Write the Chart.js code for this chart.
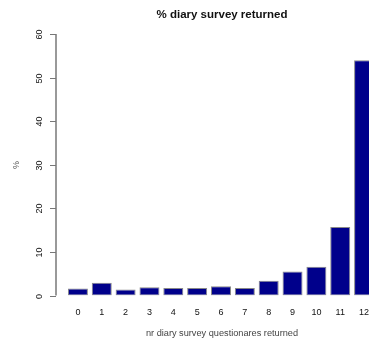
<!DOCTYPE html>
<html>
<head>
<meta charset="utf-8">
<script src="https://cdn.jsdelivr.net/npm/chart.js@4"></script>
<style>
html,body{margin:0;padding:0;background:#fff;overflow:hidden;width:369px;height:341px;}
#wrap{width:400px;height:341px;}
</style>
</head>
<body>
<div id="wrap"><canvas id="c" width="400" height="341"></canvas></div>
<script>
const categories = ["0","1","2","3","4","5","6","7","8","9","10","11","12"];
const percentReturned = [1.6, 2.9, 1.4, 1.9, 1.7, 1.7, 2.1, 1.7, 3.4, 5.5, 6.6, 15.7, 54];
const yTicks = [0, 10, 20, 30, 40, 50, 60];
const titleText = "% diary survey returned";
const xTitle = "nr diary survey questionares returned";
const yTitle = "%";

const axisPlugin = {
  id: 'rAxes',
  afterDraw(chart) {
    const ctx = chart.ctx;
    const y = chart.scales.y, x = chart.scales.x;
    const axX = 56;
    ctx.save();
    // y axis line
    ctx.strokeStyle = '#777';
    ctx.lineWidth = 1.5;
    ctx.beginPath();
    ctx.moveTo(axX, y.getPixelForValue(yTicks[0]));
    ctx.lineTo(axX, y.getPixelForValue(yTicks[yTicks.length - 1]));
    ctx.stroke();
    ctx.lineWidth = 1;
    ctx.fillStyle = '#111';
    ctx.font = '9px "Liberation Sans", Arial, sans-serif';
    ctx.textAlign = 'center';
    ctx.textBaseline = 'middle';
    yTicks.forEach(v => {
      const py = Math.round(y.getPixelForValue(v)) + 0.5;
      ctx.beginPath();
      ctx.moveTo(axX - 6, py);
      ctx.lineTo(axX, py);
      ctx.stroke();
      ctx.save();
      ctx.translate(40, py);
      ctx.rotate(-Math.PI / 2);
      ctx.fillText(String(v), 0, 0);
      ctx.restore();
    });
    // y title
    ctx.save();
    ctx.fillStyle = '#555';
    ctx.translate(17, 165);
    ctx.rotate(-Math.PI / 2);
    ctx.fillText(yTitle, 0, 0);
    ctx.restore();
    // x tick labels
    ctx.fillStyle = '#111';
    categories.forEach((c, i) => {
      ctx.fillText(c, x.getPixelForValue(i), 313);
    });
    // x title
    ctx.fillStyle = '#444';
    ctx.font = '9.2px "Liberation Sans", Arial, sans-serif';
    ctx.fillText(xTitle, 222, 333);
    // title
    ctx.fillStyle = '#111';
    ctx.font = 'bold 11.5px "Liberation Sans", Arial, sans-serif';
    ctx.fillText(titleText, 222, 15);
    ctx.restore();
  }
};

new Chart(document.getElementById('c'), {
  type: 'bar',
  data: {
    labels: categories,
    datasets: [{
      data: percentReturned,
      backgroundColor: '#00008B',
      borderColor: '#888',
      borderWidth: 1,
      borderSkipped: false,
      categoryPercentage: 1,
      barPercentage: 0.838
    }]
  },
  options: {
    responsive: false,
    animation: false,
    layout: { padding: { left: 66, right: 24, top: 34, bottom: 45.5 } },
    plugins: { legend: { display: false }, tooltip: { enabled: false }, title: { display: false } },
    scales: {
      x: { display: false, offset: true },
      y: { display: false, min: 0, max: 60 }
    }
  },
  plugins: [axisPlugin]
});
</script>
</body>
</html>
